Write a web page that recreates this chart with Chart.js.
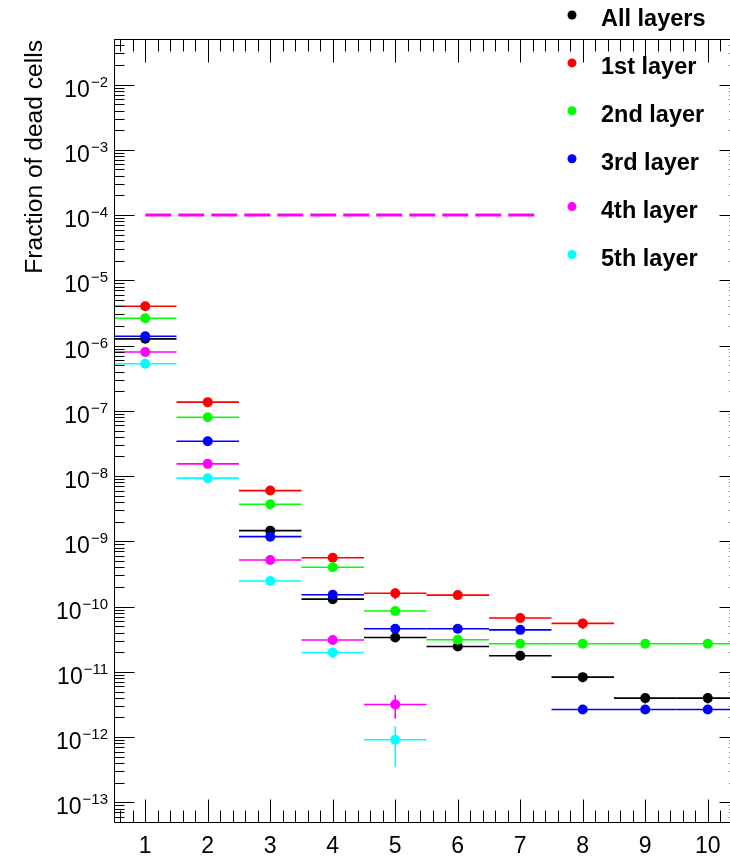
<!DOCTYPE html>
<html>
<head>
<meta charset="utf-8">
<script src="https://cdn.jsdelivr.net/npm/chart.js@4/dist/chart.umd.min.js"></script>
<style>
  html, body { margin: 0; padding: 0; overflow: hidden; background: #fff; }
  canvas { display: block; }
</style>
</head>
<body>
<canvas id="c" width="760" height="857"></canvas>
<script>
// bins along x, one value per bin (null = no point)
const bins = [1, 2, 3, 4, 5, 6, 7, 8, 9, 10];
const binHalfWidth = 0.5;

const allLayers = [1.27e-6, null, 1.46e-9, 1.3e-10, 3.37e-11, 2.45e-11, 1.77e-11, 8.3e-12, 3.96e-12, 3.96e-12];
const allLayersErr = [0.06e-6, null, 0.25e-9, 0.2e-10, 0.4e-11, 0.3e-11, 0.25e-11, 1.4e-12, 0.7e-12, 0.7e-12];

const layer1 = [4.0e-6, 1.36e-7, 6.0e-9, 5.6e-10, 1.6e-10, 1.5e-10, 6.7e-11, 5.53e-11, null, null];
const layer1Err = [0.2e-6, 0.1e-7, 0.4e-9, 0.45e-10, 0.3e-10, 0.15e-10, 1.1e-11, 1.0e-11, null, null];

const layer2 = [2.62e-6, 8.0e-8, 3.7e-9, 4.0e-10, 8.55e-11, 3.1e-11, 2.7e-11, 2.7e-11, 2.7e-11, 2.7e-11];
const layer2Err = [0.15e-6, 0.5e-8, 0.25e-9, 0.3e-10, 0.8e-11, 0.4e-11, 0.2e-11, 0.2e-11, 0.2e-11, 0.2e-11];

const layer3 = [1.39e-6, 3.43e-8, 1.18e-9, 1.52e-10, 4.58e-11, 4.58e-11, 4.4e-11, 2.65e-12, 2.65e-12, 2.65e-12];
const layer3Err = [0.18e-6, 0.3e-8, 0.1e-9, 0.22e-10, 0.8e-11, 0.7e-11, 0.6e-11, 0.3e-12, 0.3e-12, 0.3e-12];

const layer4 = [7.96e-7, 1.54e-8, 5.19e-10, 3.07e-11, 3.16e-12, null, null, null, null, null];
const layer4Err = [0.06e-6, 0.15e-8, 0.5e-10, 0.5e-11, 1.25e-12, null, null, null, null, null];

const layer5 = [5.28e-7, 9.3e-9, 2.47e-10, 1.98e-11, 9.1e-13, null, null, null, null, null];
const layer5Err = [0.04e-6, 0.08e-8, 0.25e-10, 0.35e-11, 0.56e-12, null, null, null, null, null];

// horizontal limit line
const limitX = [1, 7.24];
const limitY = [1e-4, 1e-4];

const seriesNames = ["All layers", "1st layer", "2nd layer", "3rd layer", "4th layer", "5th layer"];
const seriesColors = ["#000000", "#ff0000", "#00ff00", "#0000ff", "#ff00ff", "#00ffff"];
const seriesValues = [allLayers, layer1, layer2, layer3, layer4, layer5];
const seriesErrors = [allLayersErr, layer1Err, layer2Err, layer3Err, layer4Err, layer5Err];

const yDecades = [-13, -12, -11, -10, -9, -8, -7, -6, -5, -4, -3, -2];
const xTickLabels = ["1", "2", "3", "4", "5", "6", "7", "8", "9", "10"];

const FONT = '"Liberation Sans", Arial, Helvetica, sans-serif';

function toPoints(values, errors) {
  const pts = [];
  bins.forEach((b, i) => {
    if (values[i] == null) return;
    pts.push({ x: b, y: values[i], ey: errors[i] || 0 });
  });
  return pts;
}

const datasets = seriesNames.map((name, i) => ({
  label: name,
  data: toPoints(seriesValues[i], seriesErrors[i]),
  backgroundColor: seriesColors[i],
  borderColor: seriesColors[i],
  pointRadius: 5,
  pointBorderWidth: 0,
  pointHoverRadius: 5,
  showLine: false,
  errorBars: true,
  inLegend: true,
  order: 10 - i,
}));

datasets.push({
  type: "line",
  label: "limit",
  data: limitX.map((x, i) => ({ x: x, y: limitY[i] })),
  borderColor: "#ff00ff",
  borderWidth: 3,
  borderDash: [26, 7],
  pointRadius: 0,
  showLine: true,
  fill: false,
  order: 0,
});

// draws x/y error bars of a series just before its markers
const errorBarPlugin = {
  id: "errorBars",
  beforeDatasetDraw(chart, args) {
    const ds = chart.data.datasets[args.index];
    if (!ds.errorBars) return;
    const { ctx, scales: { x, y }, chartArea } = chart;
    ctx.save();
    ctx.beginPath();
    ctx.rect(chartArea.left, chartArea.top, chartArea.right - chartArea.left, chartArea.bottom - chartArea.top);
    ctx.clip();
    ctx.strokeStyle = ds.borderColor;
    ctx.lineWidth = 1.6;
    ds.data.forEach(p => {
      const py = y.getPixelForValue(p.y);
      const px = x.getPixelForValue(p.x);
      ctx.beginPath();
      ctx.moveTo(x.getPixelForValue(p.x - binHalfWidth), py);
      ctx.lineTo(x.getPixelForValue(p.x + binHalfWidth), py);
      if (p.ey > 0) {
        const lo = Math.max(p.y - p.ey, 1e-20);
        ctx.moveTo(px, y.getPixelForValue(p.y + p.ey));
        ctx.lineTo(px, y.getPixelForValue(lo));
      }
      ctx.stroke();
    });
    ctx.restore();
  }
};

// ROOT style frame with inward ticks on all four sides
const rootAxesPlugin = {
  id: "rootAxes",
  afterDraw(chart) {
    const { ctx, scales: { x, y }, chartArea: a } = chart;
    const L = Math.round(a.left) + 0.5, R = Math.round(a.right) + 0.5;
    const T = Math.round(a.top) + 0.5, B = Math.round(a.bottom) + 0.5;
    ctx.save();
    ctx.strokeStyle = "#000";
    ctx.lineWidth = 1;
    ctx.beginPath();
    ctx.rect(L, T, R - L, B - T);

    // y ticks (log)
    for (let n = -14; n <= -1; n++) {
      for (let k = 1; k <= 9; k++) {
        const v = k * Math.pow(10, n);
        if (v < y.min || v > y.max) continue;
        const py = Math.round(y.getPixelForValue(v)) + 0.5;
        const len = k === 1 ? 20 : 10;
        ctx.moveTo(L, py); ctx.lineTo(L + len, py);
        ctx.moveTo(R, py); ctx.lineTo(R - len, py);
      }
    }
    // x ticks
    for (let t = 6; t <= 104; t += 2) {
      const v = t / 10;
      const px = Math.round(x.getPixelForValue(v)) + 0.5;
      const len = t % 10 === 0 ? 23 : 12;
      ctx.moveTo(px, B); ctx.lineTo(px, B - len);
      ctx.moveTo(px, T); ctx.lineTo(px, T + len);
    }
    ctx.stroke();

    // y labels 10^n
    ctx.fillStyle = "#000";
    ctx.textBaseline = "alphabetic";
    yDecades.forEach(n => {
      const py = y.getPixelForValue(Math.pow(10, n));
      const exp = "\u2212" + Math.abs(n);
      ctx.font = "23px " + FONT;
      const wBase = ctx.measureText("10").width;
      ctx.font = "15px " + FONT;
      const wExp = ctx.measureText(exp).width;
      const right = a.left - 6;
      ctx.textAlign = "left";
      ctx.font = "23px " + FONT;
      ctx.fillText("10", right - wExp - 1 - wBase, py + 12);
      ctx.font = "15px " + FONT;
      ctx.fillText(exp, right - wExp, py + 2);
    });

    // x labels
    ctx.font = "23px " + FONT;
    ctx.textAlign = "center";
    bins.forEach((b, i) => {
      ctx.fillText(xTickLabels[i], x.getPixelForValue(b), a.bottom + 31);
    });

    // y title
    ctx.save();
    ctx.translate(42, a.top + 1);
    ctx.rotate(-Math.PI / 2);
    ctx.font = "24.6px " + FONT;
    ctx.textAlign = "right";
    ctx.fillText("Fraction of dead cells", 0, 0);
    ctx.restore();

    ctx.restore();
  }
};

// legend in the top right corner
const rootLegendPlugin = {
  id: "rootLegend",
  afterDraw(chart) {
    const ctx = chart.ctx;
    ctx.save();
    ctx.font = "bold 23.5px " + FONT;
    ctx.textAlign = "left";
    ctx.textBaseline = "alphabetic";
    let row = 0;
    chart.data.datasets.forEach(ds => {
      if (!ds.inLegend) return;
      const cy = 15 + row * 47.9;
      ctx.fillStyle = ds.backgroundColor;
      ctx.beginPath();
      ctx.arc(572, cy, 4.5, 0, Math.PI * 2);
      ctx.fill();
      ctx.fillStyle = "#000";
      ctx.fillText(ds.label, 601, cy + 11);
      row++;
    });
    ctx.restore();
  }
};

new Chart(document.getElementById("c").getContext("2d"), {
  type: "scatter",
  data: { datasets: datasets },
  options: {
    responsive: false,
    animation: false,
    devicePixelRatio: 1,
    layout: { padding: { left: 114, right: 21, top: 39, bottom: 35 } },
    scales: {
      x: { type: "linear", min: 0.5, max: 10.5, display: false },
      y: { type: "logarithmic", min: 5e-14, max: 5e-2, display: false },
    },
    plugins: {
      legend: { display: false },
      tooltip: { enabled: false },
    },
  },
  plugins: [errorBarPlugin, rootAxesPlugin, rootLegendPlugin],
});
</script>
</body>
</html>
